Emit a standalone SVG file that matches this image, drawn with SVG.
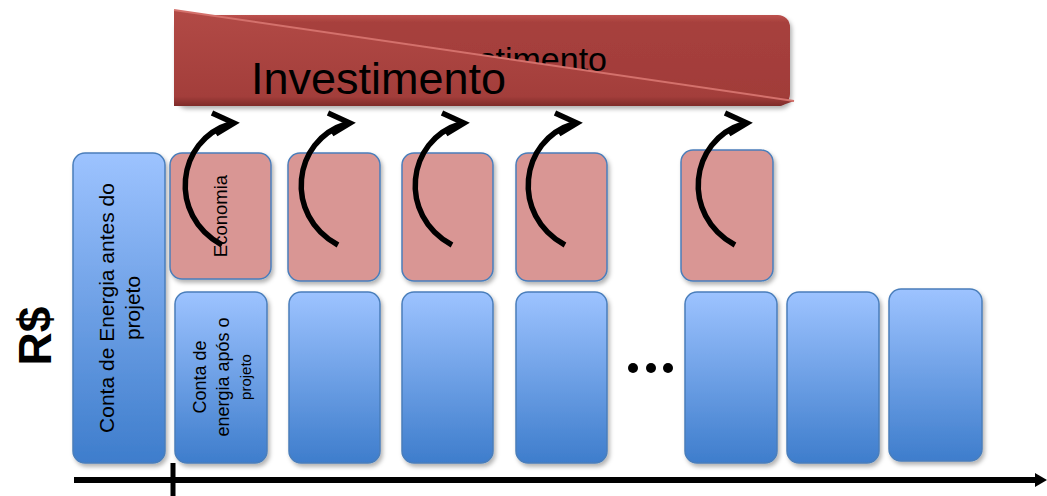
<svg xmlns="http://www.w3.org/2000/svg" xmlns:xlink="http://www.w3.org/1999/xlink" width="1047" height="496" viewBox="0 0 1047 496">
<style>
.blue{fill:url(#gBlue);stroke:#4A7EBB;stroke-width:1.5;filter:url(#sh)}
.pink{fill:#D99694;stroke:#4A7EBB;stroke-width:1.5;filter:url(#sh)}
.t{font-family:"Liberation Sans",Arial,sans-serif;fill:#000}
.curl{fill:none;stroke:#000;stroke-width:5.5;stroke-linecap:butt}
</style>
<defs>
<linearGradient id="gBlue" x1="0" y1="0" x2="0" y2="1">
<stop offset="0" stop-color="#9DC3FF"/>
<stop offset="1" stop-color="#3E7DCC"/>
</linearGradient>
<linearGradient id="gRed" x1="0" y1="0" x2="0" y2="1">
<stop offset="0" stop-color="#BD524E"/>
<stop offset="0.08" stop-color="#A7403D"/>
<stop offset="0.9" stop-color="#A13C39"/>
<stop offset="1" stop-color="#7E2B29"/>
</linearGradient>
<linearGradient id="gFlap" x1="0" y1="0" x2="0" y2="1">
<stop offset="0" stop-color="#B24A46"/>
<stop offset="0.9" stop-color="#A33E3B"/>
<stop offset="1" stop-color="#7E2B29"/>
</linearGradient>
<filter id="sh" x="-20%" y="-20%" width="140%" height="140%">
<feDropShadow dx="2" dy="3" stdDeviation="2" flood-color="#000" flood-opacity="0.3"/>
</filter>
<g id="curlArrow">
<path class="curl" d="M50,245 C-5,215 5,140 58,124"/>
<path class="curl" d="M40,113 L62,123 L44,134" stroke-linejoin="miter"/>
</g>
</defs>

<g id="investimento">
<rect x="174" y="15" width="616" height="91" rx="12" fill="url(#gRed)" filter="url(#sh)"/>
<text class="t" x="607" y="71" font-size="34" text-anchor="end">Investimento</text>
<polygon points="174,10 794,101 780,106 174,106" fill="url(#gFlap)"/>
<path d="M174,10 L794,101" stroke="#D4716C" stroke-width="2" fill="none"/>
<text class="t" x="251" y="94" font-size="45">Investimento</text>
</g>

<g id="conta-antes">
<rect class="blue" x="73" y="153" width="92" height="310" rx="12"/>
<text class="t" font-size="21" text-anchor="middle" transform="translate(114,308) rotate(-90)">Conta de Energia antes do</text>
<text class="t" font-size="21" text-anchor="middle" transform="translate(140,308) rotate(-90)">projeto</text>
</g>

<g id="economia-1">
<rect class="pink" x="170" y="153" width="101" height="126" rx="12"/>
<text class="t" font-size="18.5" text-anchor="middle" transform="translate(227,216) rotate(-90)">Economia</text>
</g>
<g id="economia-2"><rect class="pink" x="288" y="153" width="92" height="128" rx="12"/></g>
<g id="economia-3"><rect class="pink" x="402" y="153" width="91" height="128" rx="12"/></g>
<g id="economia-4"><rect class="pink" x="516" y="153" width="91" height="128" rx="12"/></g>
<g id="economia-5"><rect class="pink" x="681" y="150" width="92" height="131" rx="12"/></g>

<g id="conta-apos-1">
<rect class="blue" x="175" y="292" width="92" height="171" rx="12"/>
<text class="t" font-size="18" text-anchor="middle" transform="translate(206,377) rotate(-90)">Conta de</text>
<text class="t" font-size="18" text-anchor="middle" transform="translate(229,377) rotate(-90)">energia após o</text>
<text class="t" font-size="15" text-anchor="middle" transform="translate(251,377) rotate(-90)">projeto</text>
</g>
<g id="conta-apos-2"><rect class="blue" x="289" y="292" width="91" height="171" rx="12"/></g>
<g id="conta-apos-3"><rect class="blue" x="402" y="292" width="91" height="171" rx="12"/></g>
<g id="conta-apos-4"><rect class="blue" x="516" y="292" width="91" height="171" rx="12"/></g>
<g id="conta-apos-5"><rect class="blue" x="685" y="292" width="92" height="171" rx="12"/></g>
<g id="conta-apos-6"><rect class="blue" x="787" y="292" width="92" height="171" rx="12"/></g>
<g id="conta-apos-7"><rect class="blue" x="889" y="289" width="93" height="172" rx="12"/></g>

<g id="ellipsis">
<circle cx="633" cy="368" r="5"/>
<circle cx="651" cy="368" r="5"/>
<circle cx="668" cy="368" r="5"/>
</g>

<g id="rs-label">
<text class="t" font-size="46" font-weight="bold" text-anchor="middle" transform="translate(51,336) rotate(-90)">R$</text>
</g>

<g id="connectors">
<use xlink:href="#curlArrow" x="172"/>
<use xlink:href="#curlArrow" x="288"/>
<use xlink:href="#curlArrow" x="402"/>
<use xlink:href="#curlArrow" x="515"/>
<use xlink:href="#curlArrow" x="685"/>
<line x1="74" y1="480" x2="1038" y2="480" stroke="#000" stroke-width="6"/>
<polygon points="1035,473 1047,480 1035,487" fill="#000"/>
<line x1="173" y1="463" x2="173" y2="496" stroke="#000" stroke-width="5"/>
</g>
</svg>
